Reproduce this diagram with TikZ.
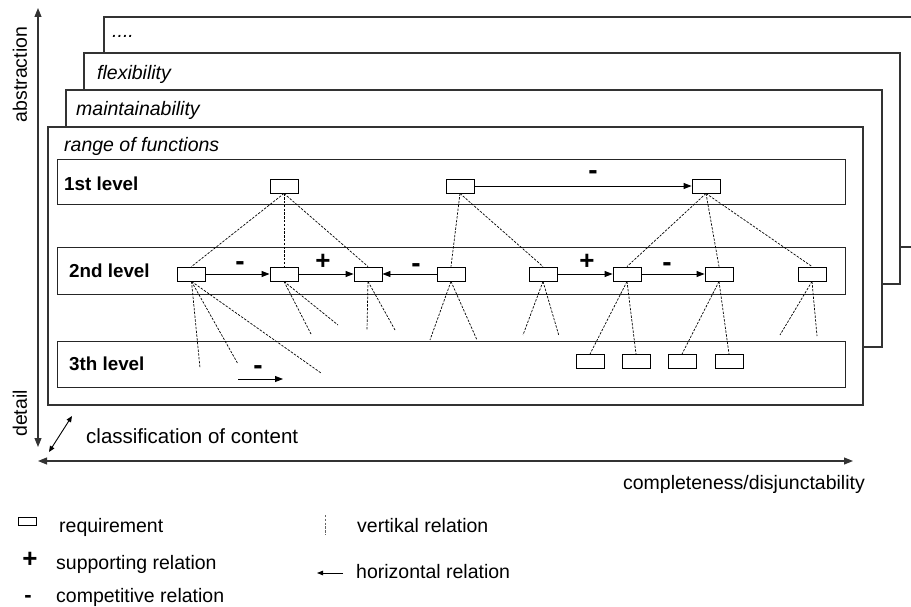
\documentclass[tikz,border=0pt]{standalone}
\usepackage{fontspec}
\setmainfont{Liberation Sans}
\usetikzlibrary{arrows.meta}
\begin{document}
\begin{tikzpicture}[x=1pt,y=-1pt,
  panel/.style={draw=black!80, line width=1.1pt, fill=white},
  levelbox/.style={draw=black!85, line width=1pt},
  req/.style={draw, line width=0.9pt, minimum width=28pt, minimum height=14pt, inner sep=0pt, fill=white},
  txt/.style={inner sep=0pt, font=\fontsize{19.5}{22}\selectfont},
  ptitle/.style={inner sep=0pt, font=\fontsize{19.5}{22}\selectfont\itshape, anchor=base west},
  lvl/.style={inner sep=0pt, font=\fontsize{18.8}{22}\selectfont\bfseries, anchor=base west},
  vrel/.style={dash pattern=on 2.4pt off 1.4pt, line width=0.7pt},
  hrel/.style={-{Triangle[length=8pt,width=6pt]}, line width=0.9pt},
  plus/.style={inner sep=0pt, font=\fontsize{26}{28}\selectfont\bfseries},
  minus/.style={inner sep=0pt, font=\fontsize{28}{30}\selectfont\bfseries, yshift=-3.5pt},
  axis/.style={{Triangle[length=9pt,width=7pt]}-{Triangle[length=9pt,width=7pt]}, line width=1.1pt, draw=black!80},
  small axis/.style={{Triangle[length=6pt,width=5pt]}-{Triangle[length=6pt,width=5pt]}, line width=0.9pt}
]
\useasboundingbox (0,0) rectangle (911,607);
\clip (0,0) rectangle (911,607);

% stacked quality panels, back to front
\draw[panel] (104,17) rectangle (930,247);
\draw[panel] (84,53) rectangle (900,284);
\draw[panel] (66,90) rectangle (882,347);
\draw[panel] (48,127) rectangle (863,405);
\node[ptitle] (tdots) at (112,38) {....};
\node[ptitle] (tflex) at (97,80) {flexibility};
\node[ptitle] (tmain) at (76,115.5) {maintainability};
\node[ptitle] (trange) at (64,152) {range of functions};

% levels
\draw[levelbox] (57,160) rectangle (845,205);
\draw[levelbox] (57,247) rectangle (845,294);
\draw[levelbox] (57,341) rectangle (845,387);
\node[lvl] (lv1) at (64,191) {1st level};
\node[lvl] (lv2) at (69,277) {2nd level};
\node[lvl] (lv3) at (69,370) {3th level};

% requirements
\node[req] (A1) at (284,186) {};
\node[req] (A2) at (460,186) {};
\node[req] (A3) at (706,186) {};
\node[req] (B1) at (191.5,274) {};
\node[req] (B2) at (284,274) {};
\node[req] (B3) at (368,274) {};
\node[req] (B4) at (451,274) {};
\node[req] (B5) at (543,274) {};
\node[req] (B6) at (627,274) {};
\node[req] (B7) at (719,274) {};
\node[req] (B8) at (812,274) {};
\node[req] (C1) at (590,361.5) {};
\node[req] (C2) at (636,361.5) {};
\node[req] (C3) at (682,361.5) {};
\node[req] (C4) at (729,361.5) {};

% open ends of vertical relations
\coordinate (f11) at (200,368);
\coordinate (f12) at (238,364);
\coordinate (f13) at (321,373);
\coordinate (f21) at (311,334);
\coordinate (f22) at (338,325);
\coordinate (f31) at (367,330);
\coordinate (f32) at (395,330);
\coordinate (f41) at (430,340);
\coordinate (f42) at (477,340);
\coordinate (f51) at (523,335);
\coordinate (f52) at (559,336);
\coordinate (f81) at (780,335);
\coordinate (f82) at (817,336);

% vertical relations
\foreach \p/\c in {A1/B1,A1/B2,A1/B3,A2/B4,A2/B5,A3/B6,A3/B7,A3/B8,B6/C1,B6/C2,B7/C3,B7/C4}
  \draw[vrel] (\p.south) -- (\c.north);
\foreach \p/\c in {B1/f11,B1/f12,B1/f13,B2/f21,B2/f22,B3/f31,B3/f32,B4/f41,B4/f42,B5/f51,B5/f52,B8/f81,B8/f82}
  \draw[vrel] (\p.south) -- (\c);

% horizontal relations
\draw[hrel] (A2.east) -- (A3.west);
\draw[hrel] (B1.east) -- (B2.west);
\draw[hrel] (B2.east) -- (B3.west);
\draw[hrel] (B4.west) -- (B3.east);
\draw[hrel] (B5.east) -- (B6.west);
\draw[hrel] (B6.east) -- (B7.west);
\coordinate (h3a) at (238,379);
\coordinate (h3b) at (283,379);
\draw[hrel] (h3a) -- (h3b);

\node[minus] (sA) at (593,172) {-};
\node[minus] (s12) at (240,263) {-};
\node[plus] (s23) at (323,262) {+};
\node[minus] (s43) at (416,265) {-};
\node[plus] (s56) at (587,262) {+};
\node[minus] (s67) at (667,264) {-};
\node[minus] (s3) at (258,367) {-};

% axes
\coordinate (vt) at (38,8);
\coordinate (vb) at (38,447);
\coordinate (hl) at (38,461);
\coordinate (hr) at (853,461);
\coordinate (dl) at (49,452);
\coordinate (du) at (72,416);
\draw[axis] (vt) -- (vb);
\draw[axis] (hl) -- (hr);
\draw[small axis] (dl) -- (du);
\node[txt, rotate=90, anchor=base] (xabs) at (27,74.5) {abstraction};
\node[txt, rotate=90, anchor=base west] (xdet) at (27,437) {detail};
\node[txt, font=\fontsize{20.5}{22}\selectfont, anchor=base west] (xcls) at (86,443) {classification of content};
\node[txt, anchor=base east] (xcmp) at (865,489) {completeness/disjunctability};

% legend
\node[draw, line width=0.9pt, minimum width=18pt, minimum height=8pt, inner sep=0pt] (lgreq) at (27.5,521) {};
\node[txt, anchor=base west] (lgreqt) at (59,532) {requirement};
\node[plus] (lgplus) at (30,560) {+};
\node[txt, anchor=base west] (lgsup) at (56,569) {supporting relation};
\node[inner sep=0pt, font=\fontsize{22}{22}\selectfont\bfseries, anchor=base] (lgminus) at (28,602) {-};
\node[txt, anchor=base west] (lgcomp) at (56,602.5) {competitive relation};
\coordinate (lgva) at (325,515);
\coordinate (lgvb) at (325,535);
\draw[vrel, draw=black!60] (lgva) -- (lgvb);
\node[txt, anchor=base west] (lgvert) at (357,532) {vertikal relation};
\coordinate (lgha) at (343,573);
\coordinate (lghb) at (317,573);
\draw[-{Triangle[length=6pt,width=4.5pt]}, line width=0.9pt] (lgha) -- (lghb);
\node[txt, anchor=base west] (lghor) at (356,578) {horizontal relation};
\end{tikzpicture}
\end{document}
